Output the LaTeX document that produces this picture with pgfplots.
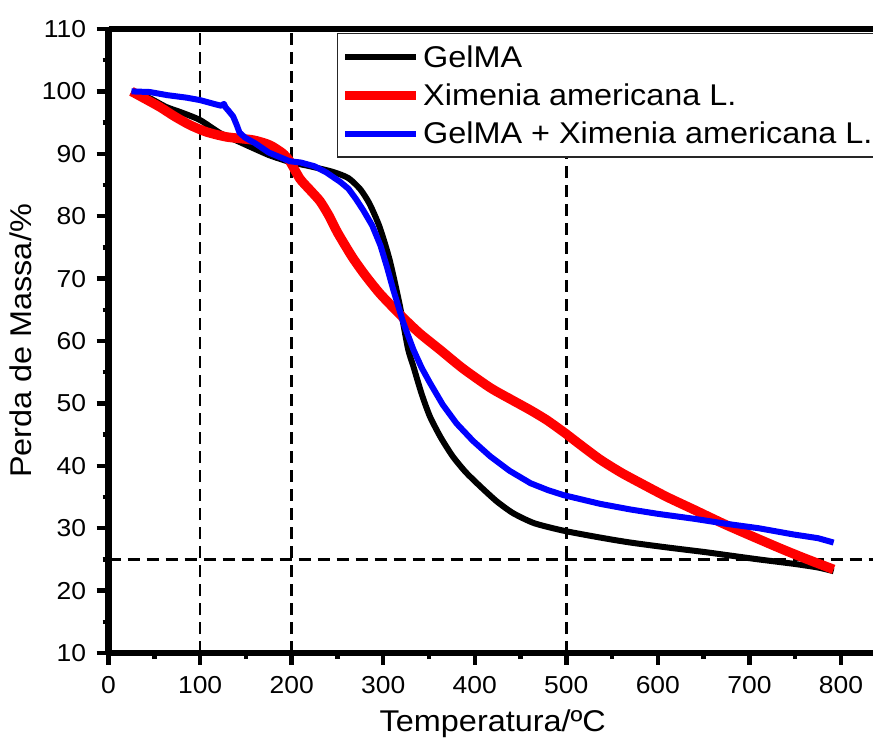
\documentclass[border=0pt]{standalone}
\usepackage{fontspec}
\setmainfont{Liberation Sans}[FakeStretch=1.08]
\usepackage{pgfplots}
\pgfplotsset{compat=1.18}

\begin{document}
\begin{tikzpicture}
\begin{axis}[
  name=ax,
  scale only axis, width=768.4bp, height=624bp,
  xmin=0, xmax=839.4, ymin=10, ymax=110,
  separate axis lines,
  every outer x axis line/.append style={line width=6.5bp},
  every outer y axis line/.append style={line width=6.5bp},
  xtick={0,100,...,800}, ytick={10,20,...,110},
  minor x tick num=1, minor y tick num=1,
  xtick pos=bottom, ytick pos=left,
  tick align=outside,
  major tick length=12bp, minor tick length=6bp,
  every tick/.append style={line width=4.5bp, black},
  ticklabel style={font=\fontsize{24.5bp}{28bp}\selectfont},
  xticklabel style={yshift=-8bp},
  yticklabel style={xshift=-7bp},
  /pgf/number format/assume math mode=true,
  xlabel={Temperatura/ºC}, ylabel={Perda de Massa/\%},
  label style={font=\fontsize{30bp}{34bp}\selectfont},
  xlabel style={yshift=-9bp},
  ylabel style={yshift=3bp},
  legend style={at={(0.2972,0.994)}, anchor=north west, draw=black!85,
    line width=1.5bp, fill=white, font=\fontsize{30bp}{34bp}\selectfont,
    inner xsep=3bp, inner ysep=10bp, row sep=11bp},
  legend cell align=left,
  legend image code/.code={\draw[#1] (0bp,0bp) -- (71bp,0bp);},
  dashline/.style={black, line width=2.6bp, dash pattern=on 12bp off 7bp},
]
% reference lines
\addplot[dashline, forget plot] coordinates {(100,10) (100,110)};
\addplot[dashline, forget plot] coordinates {(200,10) (200,110)};
\addplot[dashline, forget plot] coordinates {(500,10) (500,110)};
\addplot[dashline, forget plot] coordinates {(0,25) (839.4,25)};

% GelMA
\addplot[black, line width=6bp, line join=round, smooth, tension=0.4] coordinates {
(25,100) (45,98.9) (63,97.5) (80,96.6) (100,95.4) (122,93.3) (140,92.1)
(155,91.1) (175,89.8) (191,89.0) (200,88.6) (220,88.0) (245,87.1) (262,86.1)
(275,84.3) (285,82.0) (296,78.3) (307,73.0) (318,65.8) (327,58.8) (333,55.9)
(342,51.5) (351,47.9) (363,44.5) (376,41.5) (390,39.0) (406,36.7) (424,34.3)
(442,32.4) (465,30.8) (497,29.6) (537,28.5) (570,27.7) (611,26.9) (650,26.2)
(675,25.7) (710,25.0) (748,24.3) (775,23.7) (792,23.1)
};
\addlegendentry{GelMA}

% Ximenia americana L.
\addplot[red, line width=9.5bp, line join=round, smooth, tension=0.4] coordinates {
(25,100) (40,98.8) (56,97.5) (72,96.0) (89,94.6) (107,93.5) (129,92.7)
(158,92.2) (176,91.4) (190,90.1) (198,88.8) (209,86.0) (220,84.2) (231,82.4)
(241,80.0) (250,77.4) (266,73.5) (280,70.6) (297,67.5) (322,63.7) (340,61.2)
(362,58.6) (387,55.6) (417,52.5) (440,50.6) (461,48.9) (479,47.3) (499,45.2)
(515,43.4) (537,41.0) (560,38.9) (584,37.0) (610,35.0) (639,33.0) (675,30.5)
(730,27.0) (760,25.2) (792,23.4)
};
\addlegendentry{Ximenia americana L.}

% GelMA + Ximenia americana L.
\addplot[blue, line width=6bp, line join=round] coordinates {
(25,100) (45,99.9) (64,99.4) (85,99.0) (100,98.6) (115,98.0) (123,97.7)
(126,98.0) (128,97.4) (131,96.9) (136,96.0) (140,94.6) (143,93.4) (149,92.6)
(160,91.7) (175,90.2) (198,88.8) (210,88.6) (225,88.0) (238,87.0) (253,85.5)
(262,84.4) (270,82.8) (278,81.0) (288,78.5) (297,75.3) (304,71.9) (311,68.2)
(322,62.9) (333,58.6) (342,55.7) (351,53.3) (365,49.8) (380,46.8) (398,44.0)
(417,41.5) (438,39.2) (461,37.2) (480,36.1) (497,35.3) (537,33.9) (570,33.0)
(600,32.3) (640,31.5) (675,30.7) (710,30.0) (748,29.0) (775,28.4) (792,27.7)
};
\addlegendentry{GelMA + Ximenia americana L.}
\end{axis}
\pgfresetboundingbox
\path ([xshift=-108.6bp,yshift=-85bp]ax.south west) rectangle ([xshift=-4bp,yshift=29bp]ax.north east);
\end{tikzpicture}
\end{document}
